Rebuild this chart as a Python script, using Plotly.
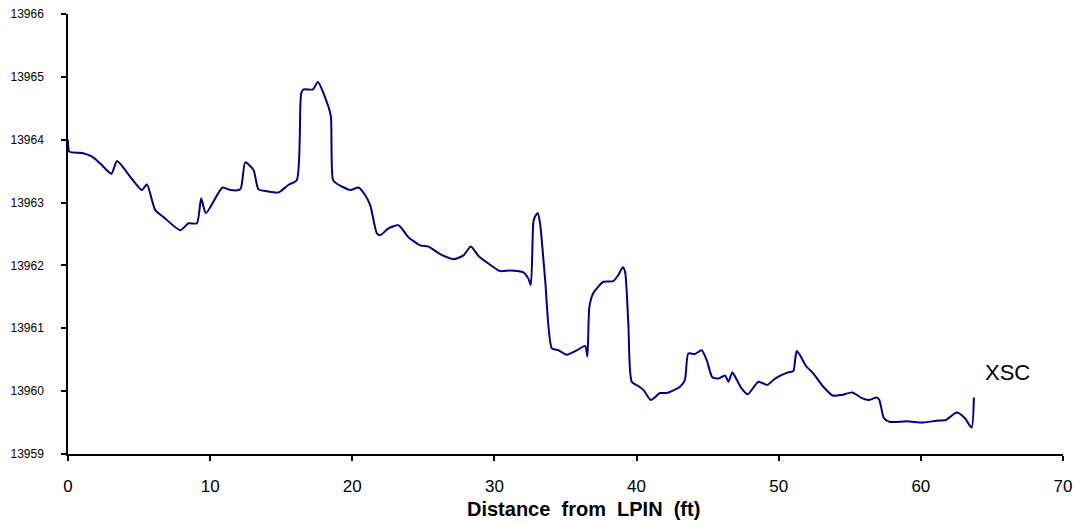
import plotly.graph_objects as go

# Distance from LPIN (ft) and elevation
distance = [0.0, 0.1, 1.0, 1.7, 2.27, 3.05, 3.45, 4.38, 5.2, 5.55, 6.14, 6.72, 7.9,
            8.48, 9.07, 9.37, 9.7, 10.87, 11.41, 12.12, 12.47, 13.05, 13.4, 14.0,
            14.8, 15.5, 16.1, 16.4, 16.57, 17.23, 17.58, 18.33, 18.5, 18.64, 18.92,
            19.85, 20.44, 20.9, 21.26, 21.73, 21.96, 22.55, 23.25, 23.95, 24.78,
            25.36, 26.18, 27.12, 27.82, 28.34, 28.88, 29.58, 30.4, 31.1, 32.04,
            32.39, 32.56, 32.74, 32.86, 33.05, 33.21, 33.57, 34.04, 34.5, 35.09,
            35.8, 36.38, 36.54, 36.68, 36.96, 37.67, 38.37, 38.72, 39.03, 39.19,
            39.42, 39.66, 40.13, 40.48, 41.0, 41.65, 42.12, 43.06, 43.4, 43.64,
            44.1, 44.58, 44.94, 45.33, 45.75, 46.22, 46.46, 46.74, 47.05, 47.4,
            47.82, 48.57, 49.2, 49.74, 50.56, 51.03, 51.15, 51.27, 51.5, 51.92,
            52.44, 53.14, 53.8, 54.43, 55.18, 55.84, 56.37, 56.89, 57.08, 57.4,
            57.83, 59.0, 60.17, 61.11, 61.74, 62.52, 63.1, 63.57, 63.73]
elevation = [13964.0, 13963.81, 13963.79, 13963.73, 13963.62, 13963.46, 13963.66,
             13963.41, 13963.2, 13963.29, 13962.88, 13962.77, 13962.56, 13962.67,
             13962.67, 13963.07, 13962.83, 13963.24, 13963.2, 13963.21, 13963.64,
             13963.52, 13963.21, 13963.18, 13963.16, 13963.28, 13963.36, 13964.73,
             13964.8, 13964.8, 13964.92, 13964.52, 13964.36, 13963.36, 13963.3,
             13963.2, 13963.24, 13963.12, 13962.96, 13962.51, 13962.48, 13962.59,
             13962.64, 13962.45, 13962.32, 13962.3, 13962.18, 13962.1, 13962.16,
             13962.3, 13962.15, 13962.03, 13961.91, 13961.92, 13961.89, 13961.79,
             13961.69, 13962.69, 13962.78, 13962.83, 13962.67, 13961.77, 13960.68,
             13960.65, 13960.58, 13960.65, 13960.72, 13960.55, 13961.34, 13961.56,
             13961.74, 13961.75, 13961.85, 13961.97, 13961.9, 13961.08, 13960.15,
             13960.08, 13960.02, 13959.86, 13959.97, 13959.97, 13960.07, 13960.18,
             13960.6, 13960.59, 13960.65, 13960.49, 13960.22, 13960.2, 13960.25,
             13960.15, 13960.3, 13960.18, 13960.04, 13959.95, 13960.15, 13960.1,
             13960.2, 13960.29, 13960.32, 13960.49, 13960.64, 13960.57, 13960.4,
             13960.28, 13960.07, 13959.93, 13959.94, 13959.98, 13959.89, 13959.86,
             13959.9, 13959.86, 13959.57, 13959.51, 13959.52, 13959.5, 13959.53,
             13959.54, 13959.66, 13959.57, 13959.42, 13959.9]

label_text = "XSC"
label_x = 64.4
label_y = 13960.29

font = "Liberation Sans, Arial, sans-serif"

fig = go.Figure()
fig.add_trace(go.Scatter(
    x=distance,
    y=elevation,
    mode='lines',
    line=dict(color='#000080', width=2, shape='spline', smoothing=0.6),
    showlegend=False
))

fig.add_annotation(
    x=label_x, y=label_y, text=label_text, showarrow=False,
    xanchor='left', yanchor='middle',
    font=dict(family=font, size=22, color='black')
)

# x axis title placed as annotation to match its offset
fig.add_annotation(
    x=0.518, y=-0.124, xref='paper', yref='paper',
    text="<b>Distance&nbsp; from&nbsp; LPIN&nbsp; (ft)</b>", showarrow=False,
    xanchor='center', yanchor='middle',
    font=dict(family=font, size=20, color='black')
)

fig.update_xaxes(
    range=[0, 70], tickvals=[0, 10, 20, 30, 40, 50, 60, 70],
    showline=True, linecolor='black', linewidth=1.5,
    ticks='outside', ticklen=5, tickcolor='black', tickwidth=1.5,
    showgrid=False, zeroline=False, automargin=False,
    tickfont=dict(family=font, size=17, color='black'),
    ticklabelstandoff=11, ticklabeloverflow='allow'
)
fig.update_yaxes(
    range=[13959, 13966], tickvals=list(range(13959, 13967)),
    tickformat='d',
    showline=True, linecolor='black', linewidth=1.5,
    ticks='outside', ticklen=5, tickcolor='black', tickwidth=1.5,
    showgrid=False, zeroline=False, automargin=False,
    tickfont=dict(family=font, size=12, color='black'),
    ticklabelstandoff=15, ticklabeloverflow='allow'
)

# page body adds an 8px offset, so margins are shifted to compensate
fig.update_layout(
    width=1084, height=525,
    margin=dict(l=60, r=29, t=6, b=79),
    plot_bgcolor='white', paper_bgcolor='white'
)

fig.write_html("out.html")
